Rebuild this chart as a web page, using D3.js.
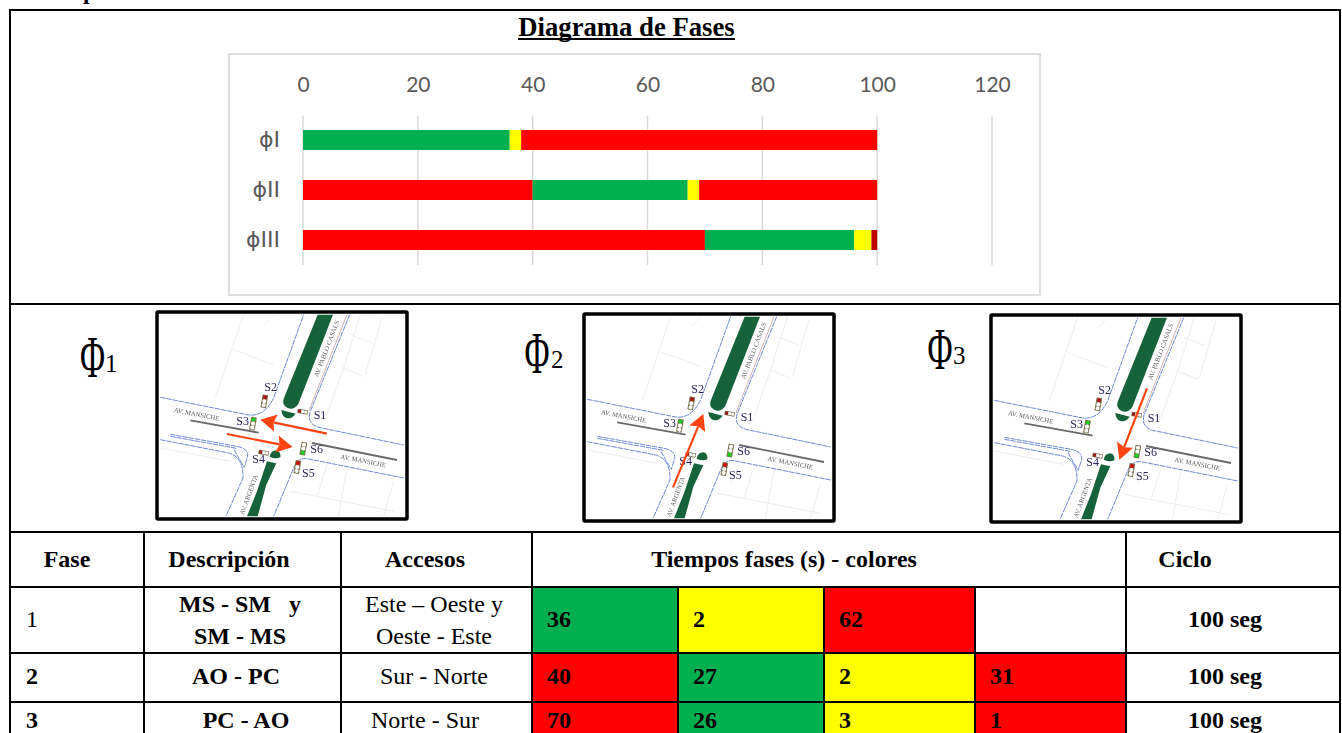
<!DOCTYPE html>
<html>
<head>
<meta charset="utf-8">
<script src="https://cdn.jsdelivr.net/npm/d3@7"></script>
<style>
html,body{margin:0;padding:0;background:#fff;overflow:hidden}
svg{display:block}
text{white-space:pre}
</style>
</head>
<body>
<svg id="page" width="1342" height="733"></svg>
<script>
// Signal plan data: durations in seconds and the light shown in each interval
const phaseLabels = ["ϕI", "ϕII", "ϕIII"];
const axisTicks = [0, 20, 40, 60, 80, 100, 120];
const phase1Seconds = [36, 2, 62];
const phase1Lights = ["verde", "amarillo", "rojo"];
const phase2Seconds = [40, 27, 2, 31];
const phase2Lights = ["rojo", "verde", "amarillo", "rojo"];
const phase3Seconds = [70, 26, 3, 1];
const phase3Lights = ["rojo", "verde", "amarillo", "rojoOscuro"];

const tableHeaders = ["Fase", "Descripción", "Accesos", "Tiempos fases (s) - colores", "Ciclo"];
const phaseNumbers = ["1", "2", "3"];
const descriptions = [["MS - SM   y", "SM - MS"], ["AO - PC"], ["PC - AO"]];
const accesses = [["Este – Oeste y", "Oeste - Este"], ["Sur - Norte"], ["Norte - Sur"]];
const cycleLabels = ["100 seg", "100 seg", "100 seg"];

const chartColors = {verde:"#00b050", amarillo:"#ffff00", rojo:"#ff0000", rojoOscuro:"#c00000"};
const tableColors = {verde:"#00b050", amarillo:"#ffff00", rojo:"#ff0000", rojoOscuro:"#ff0000"};

const serif = "'Liberation Serif','Times New Roman',serif";
const svg = d3.select("#page");

// ---------- Section title and stacked phase bars ----------
svg.append("text").attr("x",626.5).attr("y",36).attr("text-anchor","middle")
  .attr("font-family",serif).attr("font-weight",700).attr("font-size",26.7).attr("fill","#000")
  .text("Diagrama de Fases");
svg.append("rect").attr("x",518).attr("y",38).attr("width",217).attr("height",2).attr("fill","#000");

svg.append("rect").attr("x",229).attr("y",54).attr("width",811).attr("height",241)
  .attr("fill","#fff").attr("stroke","#dedede").attr("stroke-width",2);

const x = d3.scaleLinear().domain([0,120]).range([303,992]);
const y = d3.scaleBand().domain(phaseLabels).range([115,265]).paddingInner(0.6).paddingOuter(0.3);

const xAxis = svg.append("g").attr("transform","translate(0,94)")
  .call(d3.axisTop(x).tickValues(axisTicks).tickSize(0).tickPadding(0));
xAxis.select(".domain").remove();
xAxis.selectAll("text").attr("font-family","Lato,'Open Sans',sans-serif").attr("font-size",21).attr("fill","#595959")
  .attr("dy","-0.1em");

svg.append("g").selectAll("line").data(axisTicks).join("line")
  .attr("x1",d=>x(d)).attr("x2",d=>x(d)).attr("y1",115.5).attr("y2",265)
  .attr("stroke","#d9d9d9").attr("stroke-width",1.5);

const yAxis = svg.append("g").attr("transform","translate(280,0)")
  .call(d3.axisLeft(y).tickSize(0).tickPadding(0));
yAxis.select(".domain").remove();
yAxis.selectAll("text").attr("font-family","'DejaVu Sans',Lato,sans-serif").attr("font-size",22).attr("fill","#595959");

const stackRows = [
  {label:phaseLabels[0], seconds:phase1Seconds, lights:phase1Lights},
  {label:phaseLabels[1], seconds:phase2Seconds, lights:phase2Lights},
  {label:phaseLabels[2], seconds:phase3Seconds, lights:phase3Lights}
];
stackRows.forEach(row => {
  const ends = d3.cumsum(row.seconds);
  svg.append("g").selectAll("rect").data(row.seconds).join("rect")
    .attr("x",(d,i)=>x(ends[i]-d))
    .attr("y",y(row.label))
    .attr("width",d=>x(d)-x(0))
    .attr("height",y.bandwidth())
    .attr("fill",(d,i)=>chartColors[row.lights[i]]);
});

// ---------- Intersection sketches, one per phase ----------
const defs = svg.append("defs");
defs.append("filter").attr("id","soft").attr("x","-5%").attr("y","-5%").attr("width","110%").attr("height","110%")
  .append("feGaussianBlur").attr("stdDeviation",1.4);
const clipIds = ["mapa1","mapa2","mapa3"];

const sketchFrames = [
  {left:157, top:312, heading:[92.5,377], digit:[105,372], digitValue:"1", arrows:[[[800,387],[600,345]],[[500,388],[697,427]]]},
  {left:584, top:314, heading:[537,373], digit:[551,368], digitValue:"2", arrows:[[[557,542],[648,322]]]},
  {left:991, top:315, heading:[940,369], digit:[953,364], digitValue:"3", arrows:[[[758,242],[675,456]]]}
];

// Traffic-light housings: position, rotation, size, lit lamp and colour
const signals = [
  {at:[612,290], turn:10, size:1, lamp:0, color:"#b01616"},
  {at:[578,357], turn:10, size:1, lamp:0, color:"#12d020"},
  {at:[727,321], turn:100, size:.78, lamp:2, color:"#a01818"},
  {at:[610,444], turn:100, size:.78, lamp:2, color:"#a01818"},
  {at:[711,487], turn:10, size:1, lamp:0, color:"#d01010"},
  {at:[729,432], turn:10, size:1, lamp:2, color:"#12d020"}
];
const signalNames = [
  ["S2",612,258],["S1",760,342],["S3",528,362],["S4",576,476],["S5",725,516],["S6",750,445]
];
const curbs = [
  "M300,278 L560,330 Q610,340 640,280 L730,30",
  "M868,30 L752,315 Q735,355 775,368 L1030,421",
  "M1030,520 L740,462 Q712,458 700,490 L640,635",
  "M300,405 L505,445 Q550,458 548,520 L497,635",
  "M330,389 L530,425 Q565,432 562,455 L552,488 Q540,470 520,432",
  "M330,395 L528,431"
];
const faintLots = [
  "M550,30 L465,280","M520,135 L640,180","M640,30 L610,60","M900,30 L850,190 L800,330",
  "M870,90 L935,115","M850,190 L910,215","M965,40 L915,210",
  "M860,485 L835,635","M800,480 L770,575","M1000,530 L970,635","M690,560 L1000,620","M300,430 L510,470",
  "M740,500 L730,530"
];

function drawSketch(frame, idx){
  defs.append("clipPath").attr("id",clipIds[idx]).append("rect")
    .attr("x",0).attr("y",0).attr("width",250).attr("height",207);
  const holder = svg.append("g").attr("transform",`translate(${frame.left},${frame.top})`);
  const clipped = holder.append("g").attr("clip-path",`url(#${clipIds[idx]})`);
  const g = clipped.append("g").attr("transform","scale(0.3333) translate(-290,-22)");
  const soft = g.append("g").attr("filter","url(#soft)");

  soft.append("g").selectAll("path").data(faintLots).join("path").attr("d",d=>d)
    .attr("fill","none").attr("stroke","#e2e4e8").attr("stroke-width",2);
  soft.append("path").attr("d","M860,30 L746,318").attr("fill","none").attr("stroke","#b98a8a").attr("stroke-width",2);
  soft.append("g").selectAll("path").data(curbs).join("path").attr("d",d=>d)
    .attr("fill","none").attr("stroke","#5575cc").attr("stroke-width",2.6).attr("stroke-dasharray","16 2.5");

  // Planted medians and noses
  const medians = [
    "M772,30 L818,30 L714,298 Q700,318 682,310 Q664,302 670,282 Z",
    "M663,316 L706,327 Q696,342 680,341 Q664,336 663,316 Z",
    "M628,456 Q632,437 648,437 Q662,440 660,458 Q645,464 628,456 Z",
    "M620,470 L648,476 L618,540 L592,635 L560,635 L590,560 Z"
  ];
  soft.append("g").selectAll("path").data(medians).join("path").attr("d",d=>d).attr("fill","#19633a");

  // Stop bars
  soft.append("path").attr("d","M390,347 L595,384").attr("stroke","#6a6a6a").attr("stroke-width",5.5).attr("fill","none");
  soft.append("path").attr("d","M755,415 L1010,466").attr("stroke","#6a6a6a").attr("stroke-width",5.5).attr("fill","none");

  // Street names
  const streets = [
    ["AV. MANSICHE",340,322,11],["AV. MANSICHE",840,462,11],
    ["AV. PABLO CASALS",773,218,-69],["AV. ARGENTA",550,632,-70]
  ];
  soft.append("g").selectAll("text").data(streets).join("text")
    .attr("transform",d=>`translate(${d[1]},${d[2]}) rotate(${d[3]})`)
    .attr("font-family",serif).attr("font-size",20).attr("fill","#5a5a5a").text(d=>d[0]);

  // Signal heads
  signals.forEach(s => {
    const h = soft.append("g").attr("transform",`translate(${s.at[0]},${s.at[1]}) rotate(${s.turn}) scale(${s.size})`);
    h.append("rect").attr("x",-8.5).attr("y",-20).attr("width",17).attr("height",40).attr("rx",2)
      .attr("fill","#7d7350");
    [0,1,2].forEach(k => h.append("circle").attr("cx",0).attr("cy",-12+k*12).attr("r",6.2)
      .attr("fill",k===s.lamp ? s.color : "#fff"));
  });
  soft.append("g").selectAll("text").data(signalNames).join("text")
    .attr("x",d=>d[1]).attr("y",d=>d[2]).attr("font-family",serif).attr("font-size",36)
    .attr("fill","#2e2460").text(d=>d[0]);

  // Direction of the moving traffic in this phase
  frame.arrows.forEach(a => {
    const [p, q] = a;
    const ang = Math.atan2(q[1]-p[1], q[0]-p[0]);
    const ux = Math.cos(ang), uy = Math.sin(ang);
    const base = [q[0]-ux*40, q[1]-uy*40];
    g.append("path").attr("d",`M${p[0]},${p[1]} L${base[0]},${base[1]}`)
      .attr("stroke","#ff4412").attr("stroke-width",6.5).attr("fill","none");
    g.append("path")
      .attr("d",`M${q[0]},${q[1]} L${base[0]-ux*8-uy*26},${base[1]-uy*8+ux*26} L${base[0]},${base[1]} L${base[0]-ux*8+uy*26},${base[1]-uy*8-ux*26} Z`)
      .attr("fill","#ff4412");
  });

  holder.append("rect").attr("x",0).attr("y",0).attr("width",250).attr("height",207)
    .attr("fill","none").attr("stroke","#000").attr("stroke-width",3.5).attr("rx",1);

  // Phase symbol drawn narrow, with its index set beside it
  svg.append("text").attr("transform",`translate(${frame.heading[0]},${frame.heading[1]}) scale(0.58,1)`)
    .attr("text-anchor","middle").attr("font-family",serif).attr("font-size",59).attr("fill","#000").text("Φ");
  svg.append("text").attr("x",frame.digit[0]).attr("y",frame.digit[1])
    .attr("font-family",serif).attr("font-size",25).attr("fill","#000").text(frame.digitValue);
}
sketchFrames.forEach(drawSketch);

// ---------- Timing table ----------
const colEdges = [10,144,341,532,678,824,975,1126,1340];
const rowEdges = [532,587,653,702,740];
const rowCenters = [620,677,721];
const timingRows = [
  {seconds:phase1Seconds, lights:phase1Lights},
  {seconds:phase2Seconds, lights:phase2Lights},
  {seconds:phase3Seconds, lights:phase3Lights}
];
const tableFont = 24;
function cellText(sel, tx, ty, str, opts={}){
  sel.append("text").attr("x",tx).attr("y",ty).attr("text-anchor",opts.anchor||"middle")
    .attr("dominant-baseline","alphabetic")
    .attr("font-family",serif).attr("font-size",opts.size||tableFont)
    .attr("font-weight",opts.bold===false?400:700).attr("fill","#000").text(str);
}
const table = svg.append("g");
timingRows.forEach((row,r) => {
  row.seconds.forEach((v,c) => {
    table.append("rect").attr("x",colEdges[3+c]).attr("y",rowEdges[1+r])
      .attr("width",colEdges[4+c]-colEdges[3+c]).attr("height",rowEdges[2+r]-rowEdges[1+r])
      .attr("fill",tableColors[row.lights[c]]);
    cellText(table,colEdges[3+c]+15,rowCenters[r]+7,v,{anchor:"start"});
  });
  cellText(table,1225,rowCenters[r]+7,cycleLabels[r]);
  cellText(table,26,rowCenters[r]+7,phaseNumbers[r],{anchor:"start",bold:r>0});
});
const headerCenters = [67,229,425,784,1185];
tableHeaders.forEach((h,i)=>cellText(table,headerCenters[i],567,h));

const descCenters = [240,236,246];
const accessCenters = [434,434,425];
descriptions.forEach((lines,r)=>{
  if(lines.length===2){
    cellText(table,descCenters[r],612,lines[0]);
    cellText(table,descCenters[r],644,lines[1]);
  } else cellText(table,descCenters[r],rowCenters[r]+7,lines[0]);
});
accesses.forEach((lines,r)=>{
  if(lines.length===2){
    cellText(table,accessCenters[r],612,lines[0],{bold:false});
    cellText(table,accessCenters[r],644,lines[1],{bold:false});
  } else cellText(table,accessCenters[r],rowCenters[r]+7,lines[0],{bold:false});
});

// Ruled lines of the table and the outer frame
const rule = (x1,y1,x2,y2,w=2)=>svg.append("line").attr("x1",x1).attr("y1",y1).attr("x2",x2).attr("y2",y2)
  .attr("stroke","#000").attr("stroke-width",w);
[532,587,653,702].forEach(v=>rule(10,v,1340,v));
[144,341,532,1126].forEach(v=>rule(v,532,v,733));
[678,824,975].forEach(v=>rule(v,587,v,733));
rule(10,10,1340,10); rule(10,304,1340,304);
rule(10,9,10,733); rule(1340,9,1340,733);

// Clipped line of running text above the frame
svg.append("text").attr("x",30).attr("y",-1).attr("font-family",serif).attr("font-weight",700)
  .attr("font-size",24).attr("fill","#000").text("Tiempos");
</script>
</body>
</html>
